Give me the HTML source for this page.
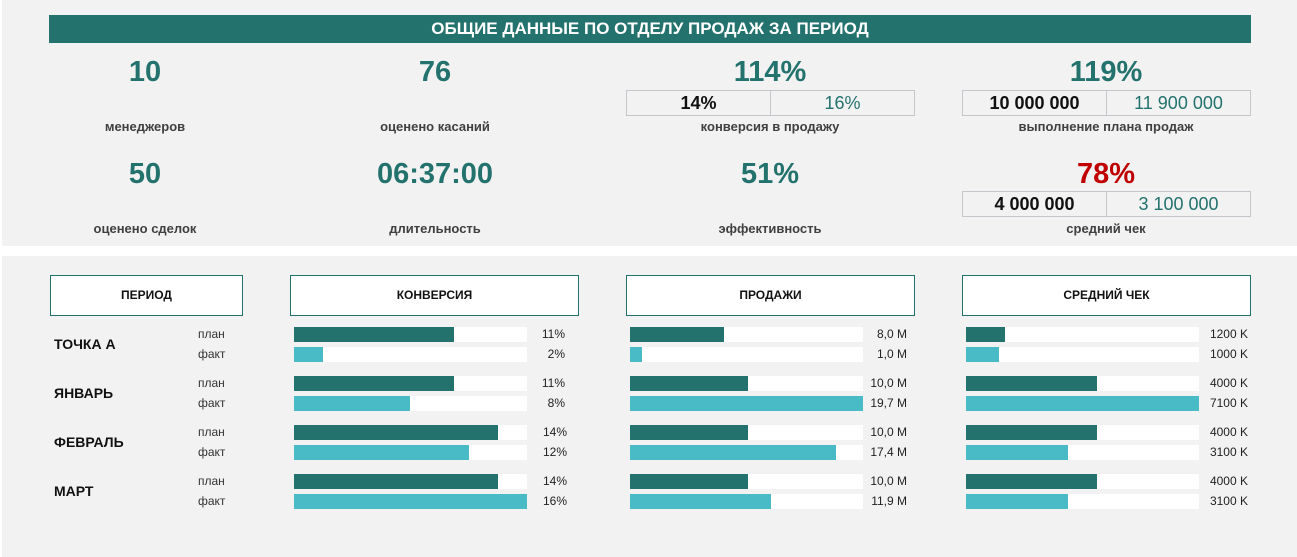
<!DOCTYPE html>
<html><head><meta charset="utf-8"><style>
*{margin:0;padding:0;box-sizing:border-box}
body{width:1297px;height:557px;background:#fff;position:relative;overflow:hidden;font-family:"Liberation Sans",sans-serif}
.a{position:absolute}
.p{background:#f2f2f2}
.big{position:absolute;width:300px;text-align:center;font-weight:bold;font-size:29px;color:#23726d;line-height:30px}
.lab{position:absolute;width:300px;text-align:center;font-weight:bold;font-size:13px;color:#404040;line-height:14px}
.box{position:absolute;height:26px;width:289px;border:1px solid #c3c7cc;display:flex;background:#f2f2f2}
.box div{flex:1;text-align:center;font-weight:bold;font-size:18px;line-height:24px}
.box div:first-child{border-right:1px solid #c3c7cc;color:#111}
.box div:last-child{color:#23726d;font-weight:normal}
.hd{position:absolute;top:275px;height:41px;border:1.5px solid #23716c;background:#fff;text-align:center;font-weight:bold;font-size:12px;line-height:38px;color:#111}
.tr{position:absolute;height:15px;width:233px;background:#fff}
.tr i{display:block;height:15px}
.d{background:#23726d}.l{background:#48bbc6}
.v{position:absolute;font-size:12px;color:#222;text-align:right;width:60px;line-height:15px}
.per{position:absolute;left:54px;font-weight:bold;font-size:14px;color:#111}
.pf{position:absolute;left:198px;font-size:12px;color:#333;line-height:15px}
</style></head><body>
<div class="a p" style="left:2px;top:0;width:1295px;height:246px"></div>
<div class="a p" style="left:2px;top:256px;width:1295px;height:301px"></div>
<div class="a" style="left:49px;top:15px;width:1202px;height:28px;background:#23726d;color:#fff;font-weight:bold;font-size:17px;text-align:center;line-height:28px">ОБЩИЕ ДАННЫЕ ПО ОТДЕЛУ ПРОДАЖ ЗА ПЕРИОД</div>

<div class="big" style="left:-5px;top:57px">10</div>
<div class="big" style="left:285px;top:57px">76</div>
<div class="big" style="left:620px;top:57px">114%</div>
<div class="big" style="left:956px;top:57px">119%</div>
<div class="box" style="left:626px;top:90px"><div>14%</div><div>16%</div></div>
<div class="box" style="left:962px;top:90px"><div>10 000 000</div><div>11 900 000</div></div>
<div class="lab" style="left:-5px;top:120px">менеджеров</div>
<div class="lab" style="left:285px;top:120px">оценено касаний</div>
<div class="lab" style="left:620px;top:120px">конверсия в продажу</div>
<div class="lab" style="left:956px;top:120px">выполнение плана продаж</div>

<div class="big" style="left:-5px;top:159px">50</div>
<div class="big" style="left:285px;top:159px">06:37:00</div>
<div class="big" style="left:620px;top:159px">51%</div>
<div class="big" style="left:956px;top:159px;color:#c00000">78%</div>
<div class="box" style="left:962px;top:191px"><div>4 000 000</div><div>3 100 000</div></div>
<div class="lab" style="left:-5px;top:222px">оценено сделок</div>
<div class="lab" style="left:285px;top:222px">длительность</div>
<div class="lab" style="left:620px;top:222px">эффективность</div>
<div class="lab" style="left:956px;top:222px">средний чек</div>

<div class="hd" style="left:50px;width:193px">ПЕРИОД</div>
<div class="hd" style="left:290px;width:289px">КОНВЕРСИЯ</div>
<div class="hd" style="left:626px;width:289px">ПРОДАЖИ</div>
<div class="hd" style="left:962px;width:289px">СРЕДНИЙ ЧЕК</div>

<div class="per" style="top:336px">ТОЧКА А</div>
<div class="per" style="top:385px">ЯНВАРЬ</div>
<div class="per" style="top:434px">ФЕВРАЛЬ</div>
<div class="per" style="top:483px">МАРТ</div>
<div class="pf" style="top:327px">план</div><div class="pf" style="top:347px">факт</div>
<div class="pf" style="top:376px">план</div><div class="pf" style="top:396px">факт</div>
<div class="pf" style="top:425px">план</div><div class="pf" style="top:445px">факт</div>
<div class="pf" style="top:474px">план</div><div class="pf" style="top:494px">факт</div>

<!-- conversion -->
<div class="tr" style="left:294px;top:327px"><i class="d" style="width:160px"></i></div>
<div class="tr" style="left:294px;top:347px"><i class="l" style="width:29px"></i></div>
<div class="tr" style="left:294px;top:376px"><i class="d" style="width:160px"></i></div>
<div class="tr" style="left:294px;top:396px"><i class="l" style="width:116px"></i></div>
<div class="tr" style="left:294px;top:425px"><i class="d" style="width:204px"></i></div>
<div class="tr" style="left:294px;top:445px"><i class="l" style="width:175px"></i></div>
<div class="tr" style="left:294px;top:474px"><i class="d" style="width:204px"></i></div>
<div class="tr" style="left:294px;top:494px"><i class="l" style="width:233px"></i></div>
<div class="v" style="left:505px;top:327px">11%</div><div class="v" style="left:505px;top:347px">2%</div>
<div class="v" style="left:505px;top:376px">11%</div><div class="v" style="left:505px;top:396px">8%</div>
<div class="v" style="left:507px;top:425px">14%</div><div class="v" style="left:507px;top:445px">12%</div>
<div class="v" style="left:507px;top:474px">14%</div><div class="v" style="left:507px;top:494px">16%</div>

<!-- sales -->
<div class="tr" style="left:630px;top:327px"><i class="d" style="width:94px"></i></div>
<div class="tr" style="left:630px;top:347px"><i class="l" style="width:12px"></i></div>
<div class="tr" style="left:630px;top:376px"><i class="d" style="width:118px"></i></div>
<div class="tr" style="left:630px;top:396px"><i class="l" style="width:233px"></i></div>
<div class="tr" style="left:630px;top:425px"><i class="d" style="width:118px"></i></div>
<div class="tr" style="left:630px;top:445px"><i class="l" style="width:206px"></i></div>
<div class="tr" style="left:630px;top:474px"><i class="d" style="width:118px"></i></div>
<div class="tr" style="left:630px;top:494px"><i class="l" style="width:141px"></i></div>
<div class="v" style="left:847px;top:327px">8,0 M</div><div class="v" style="left:847px;top:347px">1,0 M</div>
<div class="v" style="left:847px;top:376px">10,0 M</div><div class="v" style="left:847px;top:396px">19,7 M</div>
<div class="v" style="left:847px;top:425px">10,0 M</div><div class="v" style="left:847px;top:445px">17,4 M</div>
<div class="v" style="left:847px;top:474px">10,0 M</div><div class="v" style="left:847px;top:494px">11,9 M</div>

<!-- avg check -->
<div class="tr" style="left:966px;top:327px"><i class="d" style="width:39px"></i></div>
<div class="tr" style="left:966px;top:347px"><i class="l" style="width:33px"></i></div>
<div class="tr" style="left:966px;top:376px"><i class="d" style="width:131px"></i></div>
<div class="tr" style="left:966px;top:396px"><i class="l" style="width:233px"></i></div>
<div class="tr" style="left:966px;top:425px"><i class="d" style="width:131px"></i></div>
<div class="tr" style="left:966px;top:445px"><i class="l" style="width:102px"></i></div>
<div class="tr" style="left:966px;top:474px"><i class="d" style="width:131px"></i></div>
<div class="tr" style="left:966px;top:494px"><i class="l" style="width:102px"></i></div>
<div class="v" style="left:1188px;top:327px">1200 K</div><div class="v" style="left:1188px;top:347px">1000 K</div>
<div class="v" style="left:1188px;top:376px">4000 K</div><div class="v" style="left:1188px;top:396px">7100 K</div>
<div class="v" style="left:1188px;top:425px">4000 K</div><div class="v" style="left:1188px;top:445px">3100 K</div>
<div class="v" style="left:1188px;top:474px">4000 K</div><div class="v" style="left:1188px;top:494px">3100 K</div>
</body></html>
